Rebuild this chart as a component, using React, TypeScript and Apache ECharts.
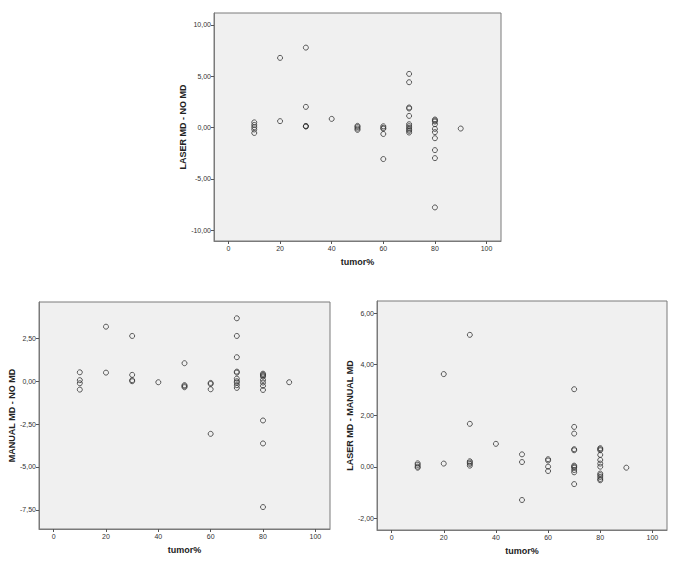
import React, { useEffect, useRef } from "react";
import * as echarts from "echarts";

// Chart 1: LASER MD - NO MD vs tumor%
const laserNoX = [10, 10, 10, 10, 10, 20, 20, 30, 30, 30, 30, 30, 40, 50, 50, 50, 50,
  60, 60, 60, 60, 60, 70, 70, 70, 70, 70, 70, 70, 70, 70, 70, 70,
  80, 80, 80, 80, 80, 80, 80, 80, 80, 80, 90];
const laserNoY = [0.5, 0.25, 0.03, -0.19, -0.53, 6.78, 0.62, 7.78, 2.01, 0.15, 0.12, 0.1, 0.84, 0.16, 0.05, -0.1, -0.23,
  0.12, -0.03, -0.12, -0.63, -3.07, 5.22, 4.41, 1.95, 1.85, 1.13, 0.32, 0.13, -0.03, -0.19, -0.32, -0.49,
  0.78, 0.68, 0.58, 0.32, -0.13, -0.45, -1.04, -2.2, -2.98, -7.78, -0.1];

// Chart 2: MANUAL MD - NO MD vs tumor%
const manualNoX = [10, 10, 10, 10, 20, 20, 30, 30, 30, 30, 40, 50, 50, 50, 50,
  60, 60, 60, 60, 70, 70, 70, 70, 70, 70, 70, 70, 70, 70,
  80, 80, 80, 80, 80, 80, 80, 80, 80, 80, 80, 90];
const manualNoY = [0.52, 0.06, -0.12, -0.49, 3.18, 0.5, 2.64, 0.37, 0.06, 0.0, -0.06, 1.05, -0.23, -0.29, -0.35,
  -0.1, -0.16, -0.47, -3.07, 3.67, 2.64, 1.4, 0.56, 0.5, 0.15, 0.0, -0.08, -0.23, -0.39,
  0.44, 0.38, 0.33, 0.27, 0.08, -0.08, -0.27, -0.51, -2.29, -3.63, -7.34, -0.06];

// Chart 3: LASER MD - MANUAL MD vs tumor%
const laserManualX = [10, 10, 10, 10, 20, 20, 30, 30, 30, 30, 30, 30, 40, 50, 50, 50,
  60, 60, 60, 60, 70, 70, 70, 70, 70, 70, 70, 70, 70, 70, 70,
  80, 80, 80, 80, 80, 80, 80, 80, 80, 80, 80, 80, 90];
const laserManualY = [0.14, 0.08, 0.01, -0.03, 3.62, 0.13, 5.15, 1.68, 0.22, 0.17, 0.12, 0.05, 0.9, 0.49, 0.19, -1.29,
  0.3, 0.25, 0.01, -0.16, 3.03, 1.56, 1.3, 0.69, 0.65, 0.05, 0.01, -0.03, -0.12, -0.21, -0.67,
  0.73, 0.69, 0.65, 0.47, 0.27, 0.13, 0.01, -0.26, -0.32, -0.39, -0.47, -0.52, -0.03];

const xTicks = [0, 20, 40, 60, 80, 100];
const yTicks1 = [-10, -5, 0, 5, 10];
const yTicks2 = [-7.5, -5, -2.5, 0, 2.5];
const yTicks3 = [-2, 0, 2, 4, 6];

const xName = "tumor%";
const yNames = ["LASER MD - NO MD", "MANUAL MD - NO MD", "LASER MD - MANUAL MD"];

const FONT = "Liberation Sans, Arial, sans-serif";

export default function App() {
  const ref = useRef<HTMLDivElement>(null);
  useEffect(() => {
    if (!ref.current) return;
    const chart = echarts.init(ref.current, undefined, { renderer: "svg" });
    const grids = [
      { left: 214, top: 13, width: 287, height: 228 },
      { left: 39, top: 302, width: 291, height: 227 },
      { left: 377, top: 301, width: 290, height: 229 },
    ];
    const yRanges = [
      [-11.05, 11.15],
      [-8.62, 4.62],
      [-2.46, 6.47],
    ];
    const yTicks = [yTicks1, yTicks2, yTicks3];
    const datas = [
      laserNoX.map((x, i) => [x, laserNoY[i]]),
      manualNoX.map((x, i) => [x, manualNoY[i]]),
      laserManualX.map((x, i) => [x, laserManualY[i]]),
    ];
    const axisCommon = {
      axisLine: { show: true, onZero: false, lineStyle: { color: "#7a7a7a", width: 1 } },
      axisTick: { show: true, length: 3, inside: false, lineStyle: { color: "#555" } },
      splitLine: { show: false },
      nameTextStyle: { fontFamily: FONT, fontWeight: "bold", fontSize: 9, color: "#222" },
    };
    const fmt = (v: number) => v.toFixed(2).replace(".", ",");
    chart.setOption({
      animation: false,
      backgroundColor: "#ffffff",
      grid: grids.map((g) => ({
        ...g,
        show: true,
        backgroundColor: "#f0f0f0",
        borderColor: "#7a7a7a",
        borderWidth: 1,
        containLabel: false,
      })),
      xAxis: grids.map((_, i) => ({
        type: "value",
        gridIndex: i,
        min: -5.6,
        max: 105.6,
        name: xName,
        nameLocation: "middle",
        nameGap: 16,
        ...axisCommon,
        axisTick: { ...axisCommon.axisTick, customValues: xTicks },
        axisLabel: {
          customValues: xTicks,
          fontFamily: FONT,
          fontSize: 7,
          color: "#333",
          margin: 4,
        },
      })),
      yAxis: grids.map((_, i) => ({
        type: "value",
        gridIndex: i,
        min: yRanges[i][0],
        max: yRanges[i][1],
        name: yNames[i],
        nameLocation: "middle",
        nameRotate: 90,
        nameGap: 22,
        ...axisCommon,
        axisTick: { ...axisCommon.axisTick, customValues: yTicks[i] },
        axisLabel: {
          customValues: yTicks[i],
          formatter: (v: number) => fmt(v),
          fontFamily: FONT,
          fontSize: 7,
          color: "#333",
          margin: 3,
        },
      })),
      series: datas.map((d, i) => ({
        type: "scatter",
        xAxisIndex: i,
        yAxisIndex: i,
        data: d,
        symbol: "circle",
        symbolSize: 5,
        itemStyle: { color: "transparent", borderColor: "#333", borderWidth: 1 },
      })),
    });
    return () => chart.dispose();
  }, []);
  return (
    <div
      ref={ref}
      style={{ position: "fixed", left: 0, top: 0, width: 685, height: 563 }}
    />
  );
}
